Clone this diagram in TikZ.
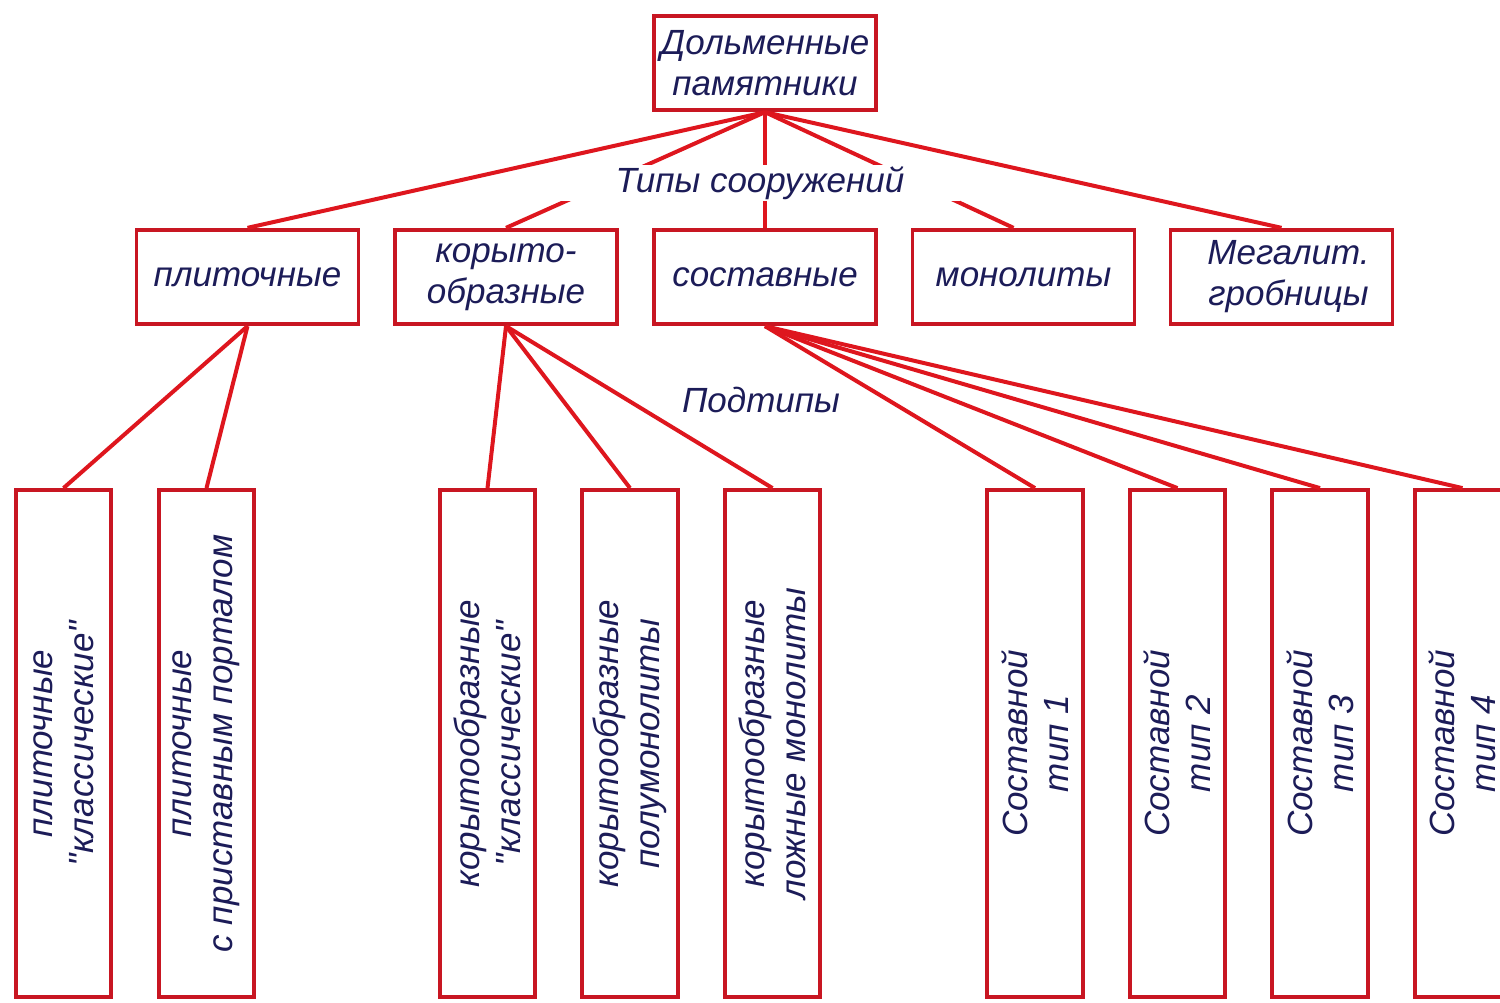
\documentclass[tikz,border=0pt]{standalone}
\usepackage{fontspec}
\setmainfont{Liberation Sans}[Ligatures=TeXOff]
\definecolor{lred}{RGB}{222,22,30}
\definecolor{bred}{RGB}{200,22,34}
\definecolor{ink}{RGB}{28,28,88}
\begin{document}
\begin{tikzpicture}[x=1pt,y=-1pt,
  txt/.style={text=ink,font=\fontsize{35}{41}\selectfont\itshape,align=center},
  conn/.style={draw=lred,line width=4pt},
  box/.style={draw=bred,line width=3.8pt,fill=white,inner sep=0pt,txt},
  hbox/.style={box,minimum width=222pt,minimum height=94.5pt},
  vbox/.style={box,minimum width=95.5pt,minimum height=507pt},
  vtxt/.style={txt,rotate=90,inner sep=0pt},
  lbl/.style={txt,fill=white,inner sep=0pt}]
\useasboundingbox (0,0) rectangle (1500,1002);
% top
\node[hbox] (top) at (765,63) {Дольменные\\памятники};
% level 2
\node[hbox] (pl)  at (247.5,277) {плиточные};
\node[hbox] (kor) at (506,277) {корыто-\\образные};
\node[hbox] (sos) at (765,277) {составные};
\node[hbox] (mon) at (1023.5,277) {монолиты};
\node[hbox] (meg) at (1281.5,277) {\hspace*{14pt}Мегалит.\\\hspace*{14pt}гробницы};
% level 3
\node[vbox] (b1) at (63.5,743.5) {};
\node[vbox] (b2) at (206.5,743.5) {};
\node[vbox] (b3) at (487.5,743.5) {};
\node[vbox] (b4) at (630,743.5) {};
\node[vbox] (b5) at (772.5,743.5) {};
\node[vbox] (b6) at (1035,743.5) {};
\node[vbox] (b7) at (1177.5,743.5) {};
\node[vbox] (b8) at (1320,743.5) {};
\node[vbox] (b9) at (1462.5,743.5) {};
\node[vtxt] (t1) at (b1) {плиточные\\"классические"};
\node[vtxt] (t2) at (b2) {плиточные\\с приставным порталом};
\node[vtxt] (t3) at (b3) {корытообразные\\"классические"};
\node[vtxt] (t4) at (b4) {корытообразные\\полумонолиты};
\node[vtxt] (t5) at (b5) {корытообразные\\ложные монолиты};
\node[vtxt] (t6) at (b6) {Составной\\тип 1};
\node[vtxt] (t7) at (b7) {Составной\\тип 2};
\node[vtxt] (t8) at (b8) {Составной\\тип 3};
\node[vtxt] (t9) at (b9) {Составной\\тип 4};
% connectors level 1 -> 2
\draw[conn] (top.south) -- (pl.north);
\draw[conn] (top.south) -- (kor.north);
\draw[conn] (top.south) -- (sos.north);
\draw[conn] (top.south) -- ([xshift=-10pt]mon.north);
\draw[conn] (top.south) -- (meg.north);
% connectors level 2 -> 3
\draw[conn] (pl.south) -- (b1.north);
\draw[conn] (pl.south) -- (b2.north);
\draw[conn] (kor.south) -- (b3.north);
\draw[conn] (kor.south) -- (b4.north);
\draw[conn] (kor.south) -- (b5.north);
\draw[conn] (sos.south) -- (b6.north);
\draw[conn] (sos.south) -- (b7.north);
\draw[conn] (sos.south) -- (b8.north);
\draw[conn] (sos.south) -- (b9.north);
% labels
\node[lbl,minimum width=400pt,minimum height=36pt] (types) at (760,183) {Типы сооружений};
\node[lbl] (sub) at (761,400) {Подтипы};
\end{tikzpicture}
\end{document}
